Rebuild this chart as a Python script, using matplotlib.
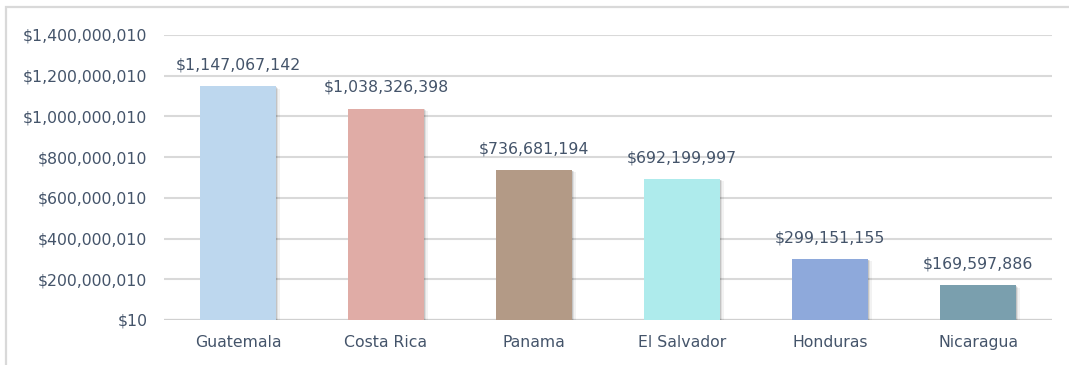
import matplotlib
matplotlib.use("Agg")
import matplotlib.pyplot as plt
import matplotlib.patheffects as pe
from matplotlib.patches import Rectangle
from matplotlib.ticker import FixedLocator, FuncFormatter

countries = ["Guatemala", "Costa Rica", "Panama", "El Salvador", "Honduras", "Nicaragua"]
values = [1147067142, 1038326398, 736681194, 692199997, 299151155, 169597886]
bar_colors = ["#BDD7EE", "#E0ACA6", "#B39A86", "#AEEBEC", "#8EA9DB", "#7A9FAE"]
y_ticks = [10, 200000010, 400000010, 600000010, 800000010, 1000000010, 1200000010, 1400000010]

text_color = "#44546A"
grid_color = "#D9D9D9"
font_size = 11.3

plt.rcParams["font.family"] = ["DejaVu Sans"]

W, H = 1069, 365
fig = plt.figure(figsize=(W / 100, H / 100), dpi=100)
fig.patch.set_facecolor("white")

# chart-area frame (top and left edges visible)
fig.add_artist(Rectangle((5.5 / W, -0.05), 1.2, 1.05 - 6.5 / H,
                         transform=fig.transFigure, fill=False,
                         edgecolor=grid_color, linewidth=1.6))

ax = fig.add_axes([164 / W, 1 - 320 / H, (1052 - 164) / W, (320 - 35) / H])
ax.set_ylim(y_ticks[0], y_ticks[-1])
ax.set_xlim(-0.5, len(countries) - 0.5)

ax.yaxis.set_major_locator(FixedLocator(y_ticks))
ax.yaxis.set_major_formatter(FuncFormatter(lambda v, p: f"${v:,.0f}"))
ax.grid(axis="y", color=grid_color, linewidth=1.5)
ax.set_axisbelow(True)

shadow = [
    pe.SimplePatchShadow(offset=(3.0, -1.5), shadow_rgbFace="black", alpha=0.05),
    pe.SimplePatchShadow(offset=(2.0, -1.0), shadow_rgbFace="black", alpha=0.08),
    pe.SimplePatchShadow(offset=(1.0, -0.5), shadow_rgbFace="black", alpha=0.12),
    pe.Normal(),
]

x = range(len(countries))
bars = ax.bar(x, values, width=0.507, color=bar_colors, zorder=3)
for b in bars:
    b.set_path_effects(shadow)

for xi, v in zip(x, values):
    ax.annotate(f"${v:,}", (xi, v), xytext=(0, 10), textcoords="offset points",
                ha="center", va="bottom", fontsize=font_size, color=text_color)

ax.set_xticks(list(x))
ax.set_xticklabels(countries)
for s in ax.spines.values():
    s.set_visible(False)
ax.axhline(y_ticks[0], color="#D0D0D0", linewidth=1.6, zorder=2)
ax.tick_params(axis="both", length=0, labelsize=font_size, labelcolor=text_color)
ax.tick_params(axis="y", pad=12)
ax.tick_params(axis="x", pad=10.5)

fig.savefig("out.png", dpi=100, facecolor="white")
